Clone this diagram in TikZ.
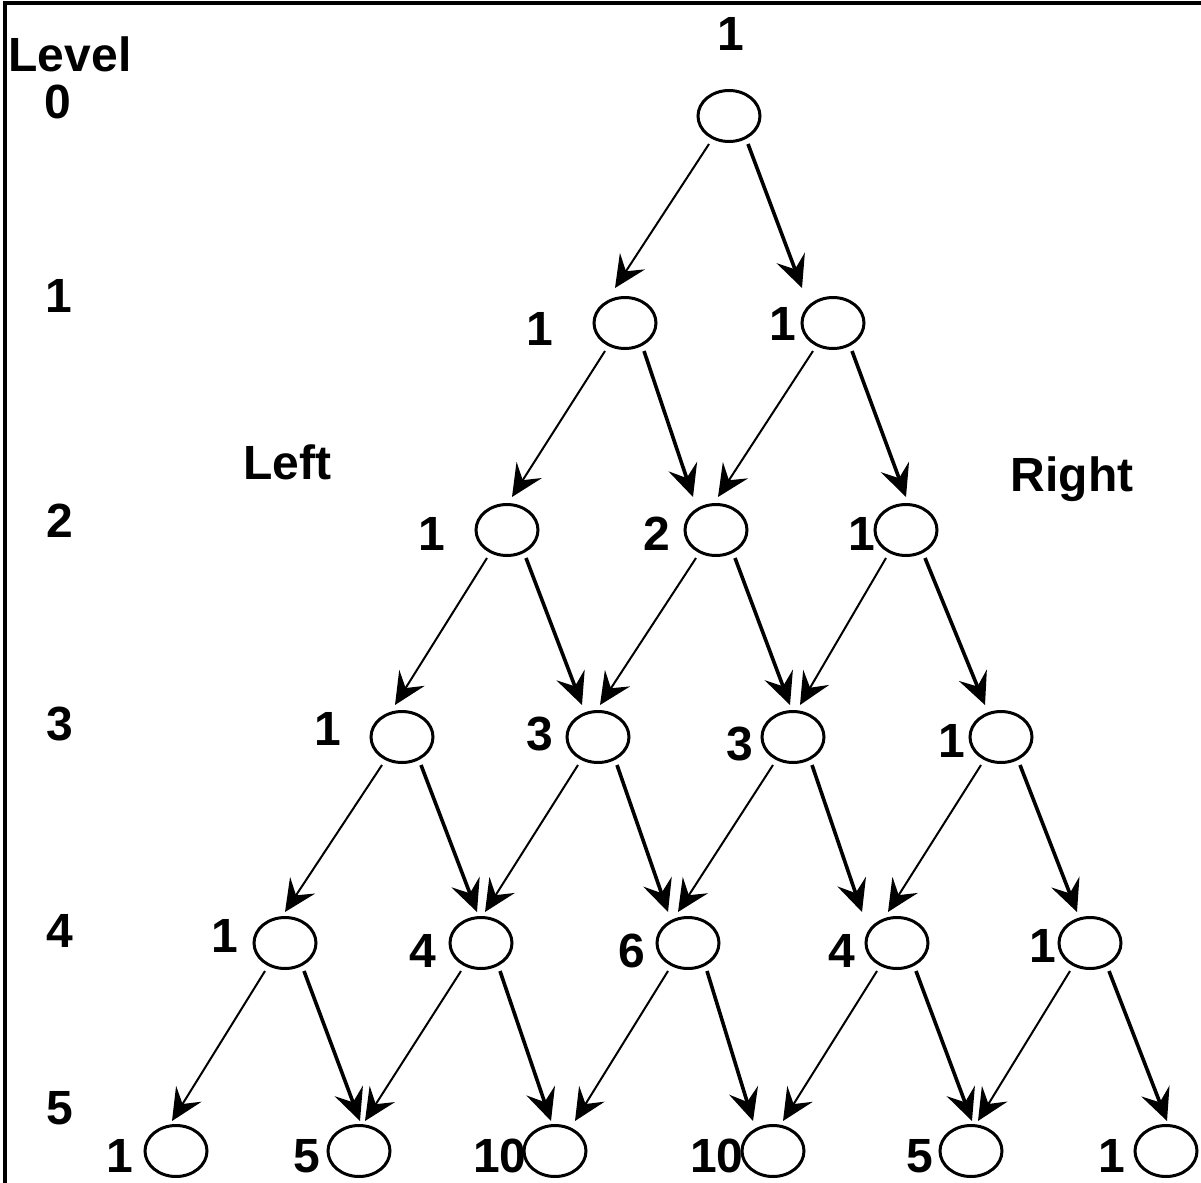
\documentclass[tikz,border=0pt]{standalone}
\usepackage{fontspec}
\setmainfont{Liberation Sans}
\usetikzlibrary{arrows.meta,shapes.geometric}
\begin{document}
\begin{tikzpicture}[x=0.5pt,y=-0.5pt,
  nd/.style={ellipse,draw,line width=1.5pt,minimum width=31pt,minimum height=25.5pt,inner sep=0pt},
  lbl/.style={font=\fontsize{24}{28}\selectfont\bfseries,inner sep=0pt,anchor=base},
  thinarr/.style={line width=1pt,-{Stealth[length=16pt,width=15pt,inset=6pt]}},
  thickarr/.style={line width=1.8pt,-{Stealth[length=16pt,width=15pt,inset=6pt]}},
  frameline/.style={line width=2pt}]
\useasboundingbox (0,0) rectangle (1201,1183);
\fill[white] (0,0) rectangle (1201,1183);
\draw[frameline] (5,1183) -- (5,3) -- (1201,3);

% nodes
\node[nd] (n00) at (729,116) {};
\node[nd] (n10) at (625,323) {};
\node[nd] (n11) at (833,323) {};
\node[nd] (n20) at (507,530) {};
\node[nd] (n21) at (716,530) {};
\node[nd] (n22) at (906,530) {};
\node[nd] (n30) at (402,737) {};
\node[nd] (n31) at (598,737) {};
\node[nd] (n32) at (793,737) {};
\node[nd] (n33) at (1001,737) {};
\node[nd] (n40) at (285,943) {};
\node[nd] (n41) at (481,943) {};
\node[nd] (n42) at (688,943) {};
\node[nd] (n43) at (897,943) {};
\node[nd] (n44) at (1090,943) {};
\node[nd] (n50) at (176,1151) {};
\node[nd] (n51) at (359,1151) {};
\node[nd] (n52) at (555,1151) {};
\node[nd] (n53) at (773,1151) {};
\node[nd] (n54) at (971,1151) {};
\node[nd] (n55) at (1166,1151) {};

% value labels
\node[lbl] (v00) at (731,50) {1};
\node[lbl] (v10) at (540,345) {1};
\node[lbl] (v11) at (783,340) {1};
\node[lbl] (v20) at (432,550) {1};
\node[lbl] (v21) at (657,550) {2};
\node[lbl] (v22) at (862,550) {1};
\node[lbl] (v30) at (328,745) {1};
\node[lbl] (v31) at (540,750) {3};
\node[lbl] (v32) at (740,760) {3};
\node[lbl] (v33) at (952,757) {1};
\node[lbl] (v40) at (225,952) {1};
\node[lbl] (v41) at (423,967) {4};
\node[lbl] (v42) at (632,967) {6};
\node[lbl] (v43) at (842,967) {4};
\node[lbl] (v44) at (1043,962) {1};
\node[lbl] (v50) at (120,1172) {1};
\node[lbl] (v51) at (307,1172) {5};
\node[lbl] (v52) at (500,1172) {10};
\node[lbl] (v53) at (717,1172) {10};
\node[lbl] (v54) at (920,1172) {5};
\node[lbl] (v55) at (1112,1172) {1};

% level labels
\node[lbl] (lvl) at (70,71) {Level};
\node[lbl] (l0) at (58,118) {0};
\node[lbl] (l1) at (59,312) {1};
\node[lbl] (l2) at (60,537) {2};
\node[lbl] (l3) at (60,740) {3};
\node[lbl] (l4) at (60,947) {4};
\node[lbl] (l5) at (60,1124) {5};
\node[lbl] (left) at (287,479) {Left};
\node[lbl] (right) at (1072,491) {Right};

% arrows level 0 -> 1
\draw[thinarr]  ([shift={(-20,28)}]n00.center) -- ([shift={(-10,-35)}]n10.center);
\draw[thickarr] ([shift={(19,28)}]n00.center)  -- ([shift={(-31,-35)}]n11.center);
% level 1 -> 2
\draw[thinarr]  ([shift={(-20,28)}]n10.center) -- ([shift={(5,-33)}]n20.center);
\draw[thickarr] ([shift={(19,28)}]n10.center)  -- ([shift={(-23,-33)}]n21.center);
\draw[thinarr]  ([shift={(-20,28)}]n11.center) -- ([shift={(2,-33)}]n21.center);
\draw[thickarr] ([shift={(19,28)}]n11.center)  -- ([shift={(0,-33)}]n22.center);
% level 2 -> 3
\draw[thinarr]  ([shift={(-20,28)}]n20.center) -- ([shift={(-7,-32)}]n30.center);
\draw[thickarr] ([shift={(19,28)}]n20.center)  -- ([shift={(-16,-32)}]n31.center);
\draw[thinarr]  ([shift={(-20,28)}]n21.center) -- ([shift={(2,-32)}]n31.center);
\draw[thickarr] ([shift={(19,28)}]n21.center)  -- ([shift={(-3,-32)}]n32.center);
\draw[thinarr]  ([shift={(-20,28)}]n22.center) -- ([shift={(7,-32)}]n32.center);
\draw[thickarr] ([shift={(19,28)}]n22.center)  -- ([shift={(-16,-32)}]n33.center);
% level 3 -> 4
\draw[thinarr]  ([shift={(-20,28)}]n30.center) -- ([shift={(0,-31)}]n40.center);
\draw[thickarr] ([shift={(19,28)}]n30.center)  -- ([shift={(-4,-31)}]n41.center);
\draw[thinarr]  ([shift={(-20,28)}]n31.center) -- ([shift={(4,-31)}]n41.center);
\draw[thickarr] ([shift={(19,28)}]n31.center)  -- ([shift={(-20,-31)}]n42.center);
\draw[thinarr]  ([shift={(-20,28)}]n32.center) -- ([shift={(-10,-31)}]n42.center);
\draw[thickarr] ([shift={(19,28)}]n32.center)  -- ([shift={(-35,-31)}]n43.center);
\draw[thinarr]  ([shift={(-20,28)}]n33.center) -- ([shift={(-9,-31)}]n43.center);
\draw[thickarr] ([shift={(19,28)}]n33.center)  -- ([shift={(-13,-31)}]n44.center);
% level 4 -> 5
\draw[thinarr]  ([shift={(-20,28)}]n40.center) -- ([shift={(-4,-30)}]n50.center);
\draw[thickarr] ([shift={(19,28)}]n40.center)  -- ([shift={(1,-30)}]n51.center);
\draw[thinarr]  ([shift={(-20,28)}]n41.center) -- ([shift={(6,-30)}]n51.center);
\draw[thickarr] ([shift={(19,28)}]n41.center)  -- ([shift={(-4,-30)}]n52.center);
\draw[thinarr]  ([shift={(-20,28)}]n42.center) -- ([shift={(20,-30)}]n52.center);
\draw[thickarr] ([shift={(19,28)}]n42.center)  -- ([shift={(-20,-30)}]n53.center);
\draw[thinarr]  ([shift={(-20,28)}]n43.center) -- ([shift={(10,-30)}]n53.center);
\draw[thickarr] ([shift={(19,28)}]n43.center)  -- ([shift={(1,-30)}]n54.center);
\draw[thinarr]  ([shift={(-20,28)}]n44.center) -- ([shift={(7,-30)}]n54.center);
\draw[thickarr] ([shift={(19,28)}]n44.center)  -- ([shift={(1,-30)}]n55.center);
\end{tikzpicture}
\end{document}
